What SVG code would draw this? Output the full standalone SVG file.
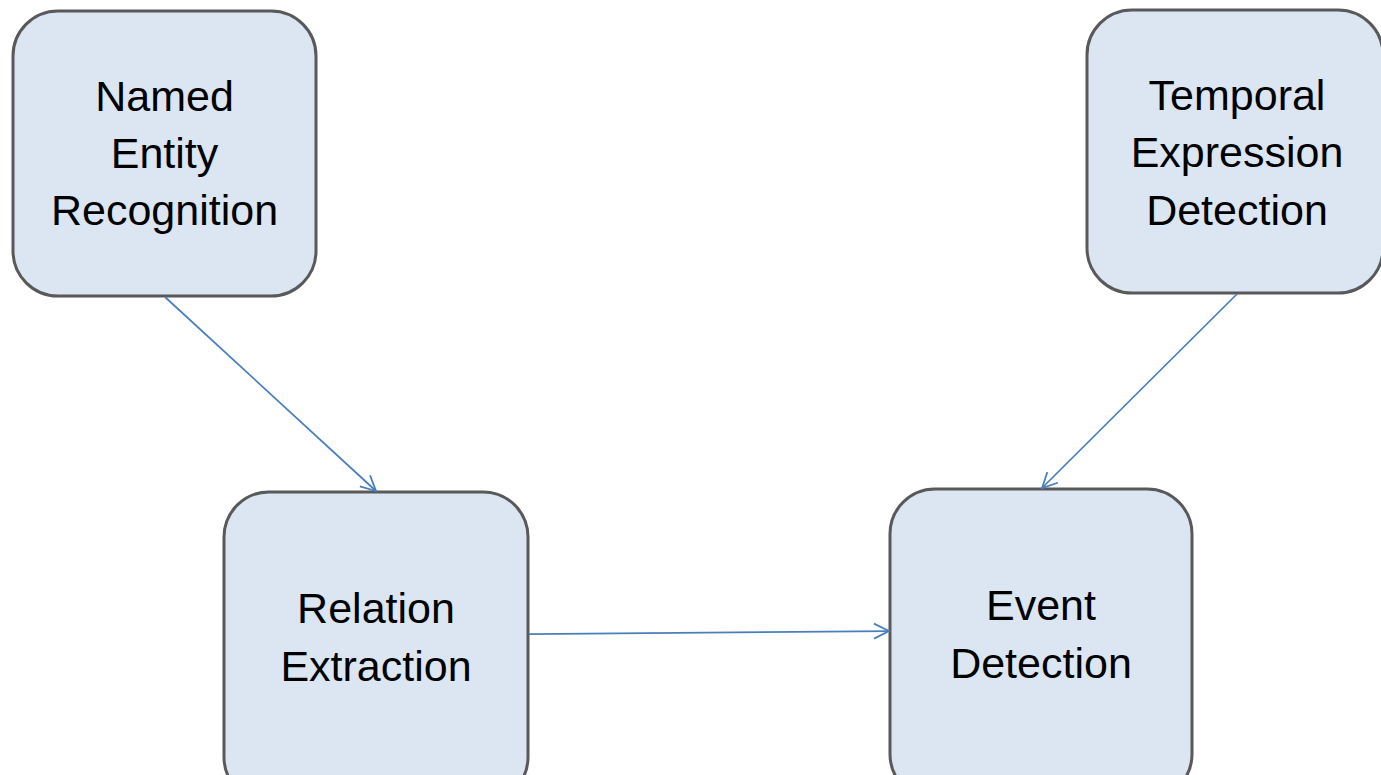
<svg xmlns="http://www.w3.org/2000/svg" width="1381" height="775" viewBox="0 0 1381 775">
<defs>
<style>
.box{fill:#dce6f2;stroke:#595959;stroke-width:3}
.lbl{font-family:"Liberation Sans",Arial,sans-serif;font-size:43px;fill:#000;text-anchor:middle}
.conn{stroke:#4a7ebb;stroke-width:1.75;fill:none}
</style>
<marker id="arr" viewBox="0 0 20 20" refX="18" refY="10" markerWidth="20" markerHeight="20" markerUnits="userSpaceOnUse" orient="auto">
<path d="M3,2.5 L18,10 L3,17.5" fill="none" stroke="#4a7ebb" stroke-width="1.75"/>
</marker>
</defs>
<rect width="1381" height="775" fill="#fff"/>
<g id="ner">
<rect class="box" x="13" y="11" width="303" height="285" rx="45"/>
<text class="lbl" x="164.5" y="111">Named</text>
<text class="lbl" x="164.5" y="168">Entity</text>
<text class="lbl" x="164.5" y="225">Recognition</text>
</g>
<g id="temporal">
<rect class="box" x="1087" y="10" width="296" height="283" rx="45"/>
<text class="lbl" x="1237" y="110">Temporal</text>
<text class="lbl" x="1237" y="167">Expression</text>
<text class="lbl" x="1237" y="225">Detection</text>
</g>
<g id="relation">
<rect class="box" x="224" y="492" width="304" height="310" rx="45"/>
<text class="lbl" x="376" y="623">Relation</text>
<text class="lbl" x="376" y="681">Extraction</text>
</g>
<g id="event">
<rect class="box" x="890" y="489" width="302" height="310" rx="45"/>
<text class="lbl" x="1041" y="620">Event</text>
<text class="lbl" x="1041" y="678">Detection</text>
</g>
<g id="connectors">
<line class="conn" x1="165" y1="297" x2="376" y2="491" marker-end="url(#arr)"/>
<line class="conn" x1="1237" y1="294" x2="1042" y2="488" marker-end="url(#arr)"/>
<line class="conn" x1="529" y1="634" x2="889" y2="631" marker-end="url(#arr)"/>
</g>
</svg>
